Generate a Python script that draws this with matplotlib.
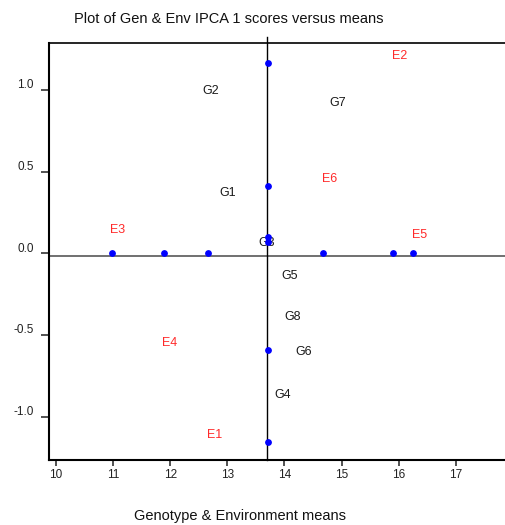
import matplotlib.pyplot as plt
from matplotlib.transforms import ScaledTranslation

plt.rcParams['font.family'] = ['Liberation Sans', 'DejaVu Sans']

# Environment means and IPCA 1 scores
env_names = ['E1', 'E2', 'E3', 'E4', 'E5', 'E6']
env_means = [12.67, 15.91, 10.98, 11.89, 16.26, 14.68]
env_ipca = [-1.155, 1.166, 0.10, -0.594, 0.07, 0.41]

# Genotype means and IPCA 1 scores
gen_names = ['G1', 'G2', 'G3', 'G4', 'G5', 'G6', 'G7', 'G8']
gen_means = [12.91, 12.60, 13.58, 13.87, 13.99, 14.24, 14.82, 14.03]
gen_ipca = [0.327, 0.953, 0.021, -0.907, -0.179, -0.644, 0.874, -0.432]

grand_mean = 13.71

fig = plt.figure(figsize=(5.05, 5.25), dpi=100)
ax = fig.add_axes([0.097, 0.1238, 0.903, 0.7937])

# reference lines through the grand mean and zero score
ax.axhline(-0.015, color='#707070', lw=1.4, zorder=1)
ax.axvline(grand_mean - 0.02, ymin=0, ymax=1.015, color='black', lw=1.0,
           clip_on=False, zorder=1)

# environment points
ax.scatter(env_means, [0] * len(env_means), s=15, color='#0000ff', zorder=3)
ax.scatter([grand_mean] * len(env_ipca), env_ipca, s=15, color='#0000ff', zorder=3)

for name, x, y in zip(gen_names, gen_means, gen_ipca):
    ax.annotate(name, (x, y), xytext=(6, 7), textcoords='offset pixels',
                ha='center', va='center', fontsize=9, color='#1a1a1a', zorder=2)
for name, x, y in zip(env_names, env_means, env_ipca):
    ax.annotate(name, (x, y), xytext=(6, 7), textcoords='offset pixels',
                ha='center', va='center', fontsize=9, color='#ff2a2a', zorder=2)

ax.set_xlim(9.877, 17.863)
ax.set_ylim(-1.265, 1.285)
ax.set_xticks(range(10, 18))
ax.set_yticks([-1.0, -0.5, 0.0, 0.5, 1.0])
ax.set_yticklabels(['-1.0', '-0.5', '0.0', '0.5', '1.0'])

ax.spines['right'].set_visible(False)
ax.spines['left'].set_linewidth(1.5)
ax.spines['bottom'].set_linewidth(1.5)
ax.spines['top'].set_linewidth(1.2)
ax.tick_params(axis='y', direction='out', length=6, width=1.2, pad=5,
               labelsize=8.5, color='#333333', labelcolor='#222222')
ax.tick_params(axis='x', direction='out', length=4.5, width=1.2, pad=2,
               labelsize=8.5, color='#333333', labelcolor='#222222')

# y tick labels sit a little above their ticks
shift = ScaledTranslation(0, 6 / 100, fig.dpi_scale_trans)
for lab in ax.get_yticklabels():
    lab.set_transform(lab.get_transform() + shift)

fig.text(229 / 505, 1 - 19 / 525, 'Plot of Gen & Env IPCA 1 scores versus means',
         ha='center', va='center', fontsize=10.5, color='#111111')
fig.text(240 / 505, 1 - 516 / 525, 'Genotype & Environment means',
         ha='center', va='center', fontsize=10.5, color='#111111')

fig.savefig('out.png', dpi=100)
